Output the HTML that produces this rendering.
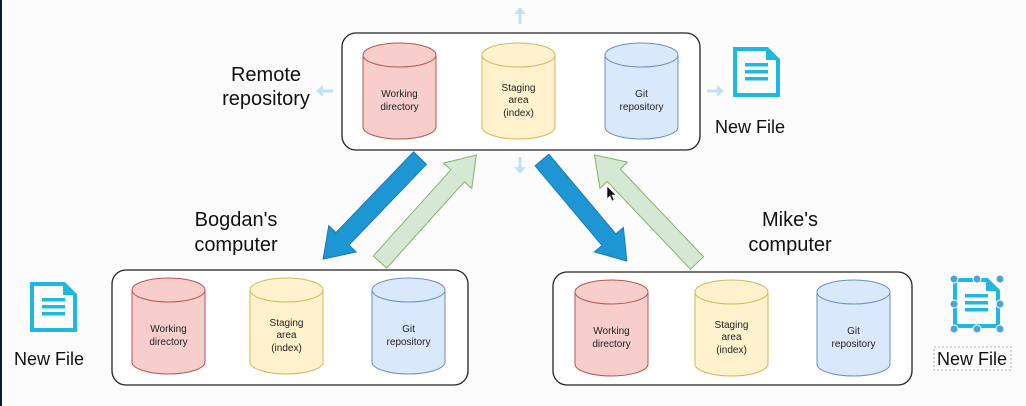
<!DOCTYPE html>
<html><head><meta charset="utf-8"><style>
html,body{margin:0;padding:0;background:#fcfcfc;}
svg{display:block;font-family:"Liberation Sans",Arial,sans-serif;}
</style></head><body>
<svg width="1026" height="406" viewBox="0 0 1026 406" xmlns="http://www.w3.org/2000/svg">
<defs>
<g id="cyl">
</g>
</defs>
<rect x="0" y="0" width="1026" height="406" fill="#fcfcfc"/>
<rect x="0" y="0" width="2" height="406" fill="#0b1c2c"/>

<!-- containers -->
<rect x="342" y="33" width="358" height="117" rx="14" fill="#fff" stroke="#222" stroke-width="1.3"/>
<rect x="112" y="270" width="356" height="115" rx="14" fill="#fff" stroke="#222" stroke-width="1.3"/>
<rect x="553" y="272" width="359" height="113" rx="14" fill="#fff" stroke="#222" stroke-width="1.3"/>

<!-- cylinders: function-like repeats -->
<g stroke-width="1">
<!-- top -->
<g fill="#f8cecc" stroke="#b85450"><path d="M363 55 v72 a36.5 12 0 0 0 73 0 v-72"/><ellipse cx="399.5" cy="55" rx="36.5" ry="12"/></g>
<g fill="#fff2cc" stroke="#d6b656"><path d="M482 55 v72 a36.5 12 0 0 0 73 0 v-72"/><ellipse cx="518.5" cy="55" rx="36.5" ry="12"/></g>
<g fill="#dae8fc" stroke="#6c8ebf"><path d="M605 55 v72 a36.5 12 0 0 0 73 0 v-72"/><ellipse cx="641.5" cy="55" rx="36.5" ry="12"/></g>
<!-- bottom left -->
<g fill="#f8cecc" stroke="#b85450"><path d="M132 290 v72 a36.5 12 0 0 0 73 0 v-72"/><ellipse cx="168.5" cy="290" rx="36.5" ry="12"/></g>
<g fill="#fff2cc" stroke="#d6b656"><path d="M250 290 v72 a36.5 12 0 0 0 73 0 v-72"/><ellipse cx="286.5" cy="290" rx="36.5" ry="12"/></g>
<g fill="#dae8fc" stroke="#6c8ebf"><path d="M372 290 v72 a36.5 12 0 0 0 73 0 v-72"/><ellipse cx="408.5" cy="290" rx="36.5" ry="12"/></g>
<!-- bottom right -->
<g fill="#f8cecc" stroke="#b85450"><path d="M575 292 v72 a36.5 12 0 0 0 73 0 v-72"/><ellipse cx="611.5" cy="292" rx="36.5" ry="12"/></g>
<g fill="#fff2cc" stroke="#d6b656"><path d="M695 292 v72 a36.5 12 0 0 0 73 0 v-72"/><ellipse cx="731.5" cy="292" rx="36.5" ry="12"/></g>
<g fill="#dae8fc" stroke="#6c8ebf"><path d="M817 292 v72 a36.5 12 0 0 0 73 0 v-72"/><ellipse cx="853.5" cy="292" rx="36.5" ry="12"/></g>
</g>

<g font-size="10" fill="#222" text-anchor="middle">
<text x="399.5" y="97">Working</text><text x="399.5" y="110">directory</text>
<text x="518.5" y="91">Staging</text><text x="518.5" y="103">area</text><text x="518.5" y="116">(index)</text>
<text x="641.5" y="97">Git</text><text x="641.5" y="110">repository</text>
<text x="168.5" y="332">Working</text><text x="168.5" y="345">directory</text>
<text x="286.5" y="326">Staging</text><text x="286.5" y="338">area</text><text x="286.5" y="351">(index)</text>
<text x="408.5" y="332">Git</text><text x="408.5" y="345">repository</text>
<text x="611.5" y="334">Working</text><text x="611.5" y="347">directory</text>
<text x="731.5" y="328">Staging</text><text x="731.5" y="340">area</text><text x="731.5" y="353">(index)</text>
<text x="853.5" y="334">Git</text><text x="853.5" y="347">repository</text>
</g>

<g font-size="20" fill="#111" text-anchor="middle">
<text x="266" y="81">Remote</text><text x="266" y="105">repository</text>
<text x="236" y="226">Bogdan's</text><text x="236" y="251">computer</text>
<text x="790" y="226">Mike's</text><text x="790" y="251">computer</text>
</g>
<g font-size="18" fill="#111" text-anchor="middle">
<text x="750" y="133">New File</text>
<text x="49" y="365">New File</text>
<text x="972" y="365">New File</text>
</g>
<rect x="934" y="347" width="77" height="23" fill="none" stroke="#999" stroke-dasharray="2,2" stroke-width="0.8"/>

<!-- file icons -->
<g fill="none" stroke="#1fb8e0" stroke-width="4">
<path d="M735 49 h32 l11 11 v35 h-43 z"/>
<path d="M32 284 h32 l11 11 v35 h-43 z"/>
<path d="M955 280 h32 l11 11 v35 h-43 z"/>
</g>
<g fill="#1fb8e0">
<path d="M766 49 l12 11 h-12 z"/><path d="M63 284 l12 11 h-12 z"/><path d="M986 280 l12 11 h-12 z"/>
<rect x="745" y="63" width="23" height="3.5"/><rect x="745" y="70" width="23" height="3.5"/><rect x="745" y="77" width="23" height="3.5"/>
<rect x="42" y="298" width="23" height="3.5"/><rect x="42" y="305" width="23" height="3.5"/><rect x="42" y="312" width="23" height="3.5"/>
<rect x="965" y="294" width="23" height="3.5"/><rect x="965" y="301" width="23" height="3.5"/><rect x="965" y="308" width="23" height="3.5"/>
</g>
<g fill="#4aa3df" stroke="#fff" stroke-width="1">
<circle cx="954" cy="279" r="4"/><circle cx="977" cy="279" r="4"/><circle cx="1000" cy="279" r="4"/>
<circle cx="954" cy="304" r="4"/><circle cx="1000" cy="304" r="4"/>
<circle cx="954" cy="329" r="4"/><circle cx="977" cy="329" r="4"/><circle cx="1000" cy="329" r="4"/>
</g>

<!-- small light arrows -->
<g fill="#bfe3f5" stroke="#bfe3f5" stroke-width="3">
<line x1="520" y1="24" x2="520" y2="14"/><path d="M514 14 l6 -7 l6 7 z" stroke="none"/>
<line x1="520" y1="157" x2="520" y2="167"/><path d="M514 167 l6 7 l6 -7 z" stroke="none"/>
<line x1="333" y1="91" x2="323" y2="91"/><path d="M323 85 l-7 6 l7 6 z" stroke="none"/>
<line x1="707" y1="91" x2="717" y2="91"/><path d="M717 85 l7 6 l-7 6 z" stroke="none"/>
</g>

<!-- big arrows: drawn pointing along +x, rotated -->
<g transform="translate(420,158) rotate(133.8)">
<path d="M0 -9 H112 V-19 L140 0 L112 19 V9 H0 Z" fill="#1e96d4" stroke="#1a7cb3" stroke-width="1"/>
</g>
<g transform="translate(380,262) rotate(-48)">
<path d="M0 -9 H116 V-19 L144 0 L116 19 V9 H0 Z" fill="#d5e8d4" stroke="#82b366" stroke-width="1"/>
</g>
<g transform="translate(542,160) rotate(50)">
<path d="M0 -9 H104 V-19 L132 0 L104 19 V9 H0 Z" fill="#1e96d4" stroke="#1a7cb3" stroke-width="1"/>
</g>
<g transform="translate(697,263) rotate(-133.5)">
<path d="M0 -9 H121 V-19 L149 0 L121 19 V9 H0 Z" fill="#d5e8d4" stroke="#82b366" stroke-width="1"/>
</g>

<!-- cursor -->
<path d="M607 186 l0 13 l3 -3 l2 5 l2 -1 l-2 -5 l4 0 z" fill="#111" stroke="#fff" stroke-width="0.6"/>
</svg>
</body></html>
